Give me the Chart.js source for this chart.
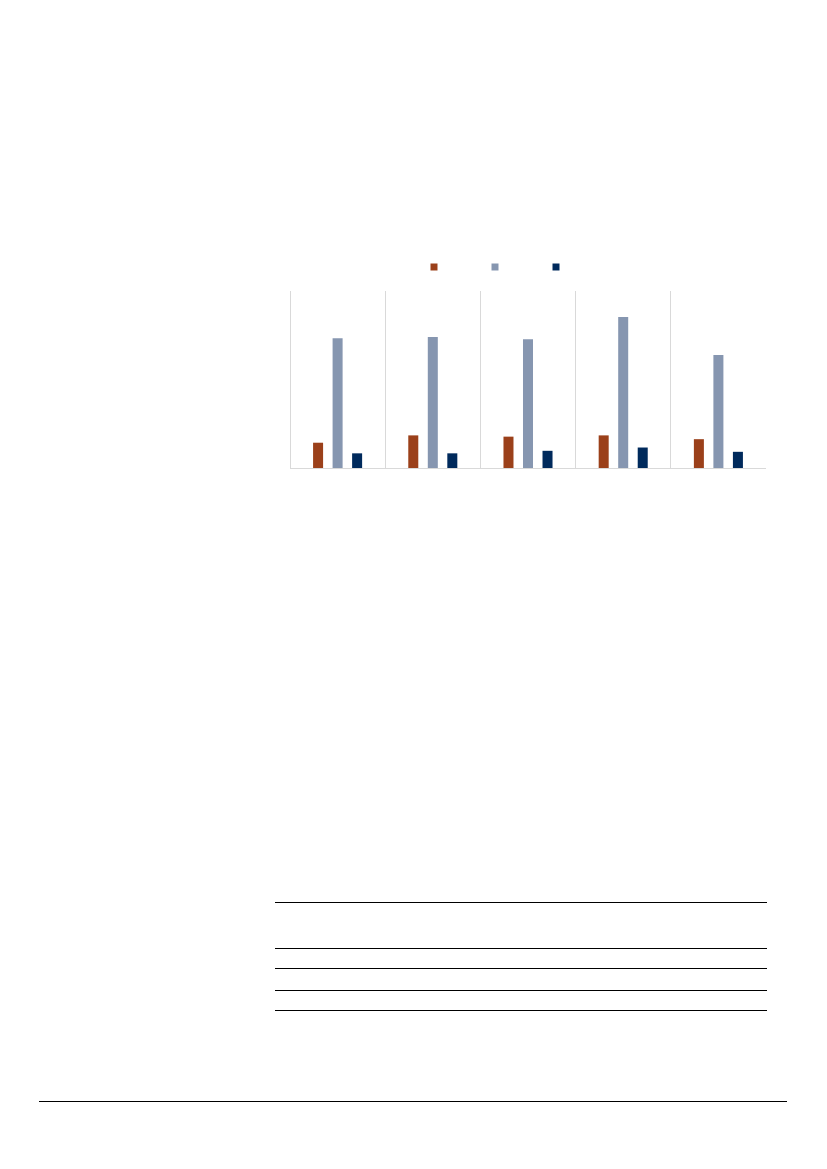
<!DOCTYPE html>
<html>
<head>
<meta charset="utf-8">
<script src="https://cdn.jsdelivr.net/npm/chart.js@4.4.1/dist/chart.umd.min.js"></script>
<style>
	html, body { margin:0; padding:0; background:#fff; }
	body { width:827px; height:1169px; position:relative; overflow:hidden; }
	#chartBox { position:absolute; left:238px; top:213px; width:528px; height:258px; }
	.rule { position:absolute; height:1px; background:#000; }
</style>
</head>
<body>
<div id="chartBox"><canvas id="chart"></canvas></div>

<div class="rule" style="left:275px; width:492px; top:902px;"></div>
<div class="rule" style="left:275px; width:492px; top:948px;"></div>
<div class="rule" style="left:275px; width:492px; top:968px;"></div>
<div class="rule" style="left:275px; width:492px; top:990px;"></div>
<div class="rule" style="left:275px; width:492px; top:1010px;"></div>
<div class="rule" style="left:39px; width:748px; top:1101px;"></div>

<script>
// values (no labels are printed in it)
var categories = ['', '', '', '', ''];
var seriesNames = ['', '', ''];
var seriesA = [10.0, 12.9, 12.4, 12.9, 11.4];
var seriesB = [51.3, 51.8, 50.9, 59.7, 44.7];
var seriesC = [5.8, 5.8, 6.8, 8.1, 6.4];
var yMax = 70;

var colors = ['#9b401a', '#8696b0', '#002a5c'];

var makeDataset = function(i, values) {
	return {
		label:seriesNames[i],
		data:values,
		backgroundColor:colors[i],
		borderWidth:0,
		categoryPercentage:0.615,
		barPercentage:0.513
	};
};

var ctx = document.getElementById('chart').getContext('2d');
var chart = new Chart(ctx, {
	type:'bar',
	data:{
		labels:categories,
		datasets:[
			makeDataset(0, seriesA),
			makeDataset(1, seriesB),
			makeDataset(2, seriesC)
		]
	},
	options:{
		animation:false,
		responsive:true,
		maintainAspectRatio:false,
		layout:{padding:0},
		plugins:{
			tooltip:{enabled:false},
			legend:{
				display:true,
				position:'top',
				labels:{
					boxWidth:7,
					boxHeight:7,
					padding:40,
					font:{size:28, family:'Liberation Sans'},
					color:'#595959'
				}
			}
		},
		scales:{
			x:{
				grid:{display:true, color:'#d9d9d9', lineWidth:1, drawTicks:false, offset:true},
				border:{display:true, color:'#d9d9d9', width:1},
				ticks:{display:false},
				afterFit:function(scale) { scale.height = 3; }
			},
			y:{
				min:0,
				max:yMax,
				grid:{display:false},
				border:{display:false},
				ticks:{display:false},
				afterFit:function(scale) { scale.width = 52; }
			}
		}
	}
});
</script>
</body>
</html>
